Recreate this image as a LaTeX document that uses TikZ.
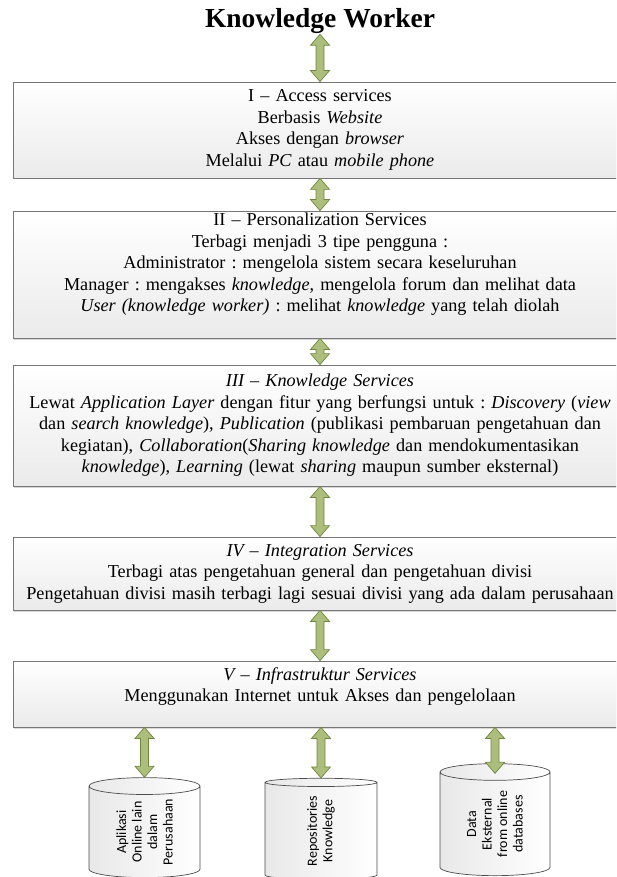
\documentclass[tikz,border=0pt]{standalone}
\usepackage{fontspec}
\setmainfont{Liberation Serif}
\setsansfont{Carlito}
\usetikzlibrary{calc,shapes.geometric,shadows}

\definecolor{verdeflecha}{RGB}{172,190,124}
\definecolor{verdeborde}{RGB}{112,134,62}
\definecolor{grisborde}{RGB}{118,118,118}

\tikzset{
 capa/.style={draw=grisborde, line width=0.8pt, top color=white, bottom color=black!8,
   minimum width=614pt, text width=612pt, align=center, inner sep=0pt,
   font=\fontsize{18.2}{21.5}\selectfont\frenchspacing,
   drop shadow={shadow xshift=0.5pt, shadow yshift=-1.5pt, fill=black!15, opacity=1}},
 basedatos/.style={cylinder, draw=black!70, line width=0.7pt, rotate=90, aspect=0.3,
   left color=black!9, right color=white, align=center, inner sep=0pt,
   font=\sffamily\fontsize{14}{15.5}\selectfont},
 flecha/.style={draw=verdeborde, fill=verdeflecha, line width=0.7pt, line join=miter}
}

% flecha doble (verde) entre dos puntos: #1 arriba, #2 abajo
\newcommand{\dobleflecha}[2]{%
 \draw[flecha] let \p1=(#1), \p2=(#2) in
  (\x1,\y1) -- (\x1+9.5pt,\y1-11pt) -- (\x1+4pt,\y1-11pt) -- (\x1+4pt,\y2+11pt)
  -- (\x1+9.5pt,\y2+11pt) -- (\x1,\y2) -- (\x1-9.5pt,\y2+11pt) -- (\x1-4pt,\y2+11pt)
  -- (\x1-4pt,\y1-11pt) -- (\x1-9.5pt,\y1-11pt) -- cycle;}

\begin{document}
\begin{tikzpicture}[x=1pt, y=-1pt]

 % --- MARCO ---
 \useasboundingbox (0,0) rectangle (616,877);
 \clip (0,0) rectangle (616,877);

 % --- TITULO ---
 \node[font=\bfseries\fontsize{27.5}{33}\selectfont, inner sep=0pt, anchor=base] (worker) at (320,28) {Knowledge Worker};

 % --- CAPAS DE SERVICIOS ---
 \node[capa, minimum height=96pt] (capaI) at (320,130)
  {I -- Access services\\
   Berbasis \textit{Website}\\
   Akses dengan \textit{browser}\\
   Melalui \textit{PC} atau \textit{mobile phone}};

 % (la linea vacia al final sube un poco el texto)
 \node[capa, minimum height=127pt] (capaII) at (320,274.5)
  {II -- Personalization Services\\
   Terbagi menjadi 3 tipe pengguna :\\
   Administrator : mengelola sistem secara keseluruhan\\
   Manager : mengakses \textit{knowledge}, mengelola forum dan melihat data\\
   \textit{User (knowledge worker)} : melihat \textit{knowledge} yang telah diolah\\[3pt]\mbox{}};

 \node[capa, minimum height=121pt] (capaIII) at (320,425.5)
  {\textit{III -- Knowledge Services}\\
   Lewat \textit{Application Layer} dengan fitur yang berfungsi untuk : \textit{Discovery} (\textit{view}\\
   dan \textit{search knowledge}), \textit{Publication} (publikasi pembaruan pengetahuan dan\\
   kegiatan), \textit{Collaboration}(\textit{Sharing knowledge} dan mendokumentasikan\\
   \textit{knowledge}), \textit{Learning} (lewat \textit{sharing} maupun sumber eksternal)};

 \node[capa, minimum height=73pt] (capaIV) at (320,573.5)
  {\textit{IV -- Integration Services}\\
   Terbagi atas pengetahuan general dan pengetahuan divisi\\
   Pengetahuan divisi masih terbagi lagi sesuai divisi yang ada dalam perusahaan};

 \node[capa, minimum height=66pt] (capaV) at (320,694)
  {\textit{V -- Infrastruktur Services}\\
   Menggunakan Internet untuk Akses dan pengelolaan\\[-3pt]\mbox{}};

 % --- BASES DE DATOS (cilindros, texto girado) ---
 \node[basedatos, minimum width=111pt, minimum height=100pt] (bd1) at (144.5,832)
  {Aplikasi\\ Online lain\\ dalam\\ Perusahaan};
 \node[basedatos, minimum width=112pt, minimum height=101pt] (bd2) at (321,831)
  {Repositories\\ Knowledge};
 \node[basedatos, minimum width=110pt, minimum height=112pt] (bd3) at (495,824)
  {Data\\ Eksternal\\ from online\\ databases};

 % --- FLECHAS ---
 \dobleflecha{worker.south}{capaI.north}
 \dobleflecha{capaI.south}{capaII.north}
 \dobleflecha{capaII.south}{capaIII.north}
 \dobleflecha{capaIII.south}{capaIV.north}
 \dobleflecha{capaIV.south}{capaV.north}

 % flechas hacia los cilindros (la de la derecha entra un poco en la tapa)
 \dobleflecha{capaV.south -| bd1.east}{bd1.east}
 \dobleflecha{capaV.south -| bd2.east}{bd2.east}
 \dobleflecha{capaV.south -| bd3.east}{$(bd3.east)+(0,10)$}

\end{tikzpicture}
\end{document}
